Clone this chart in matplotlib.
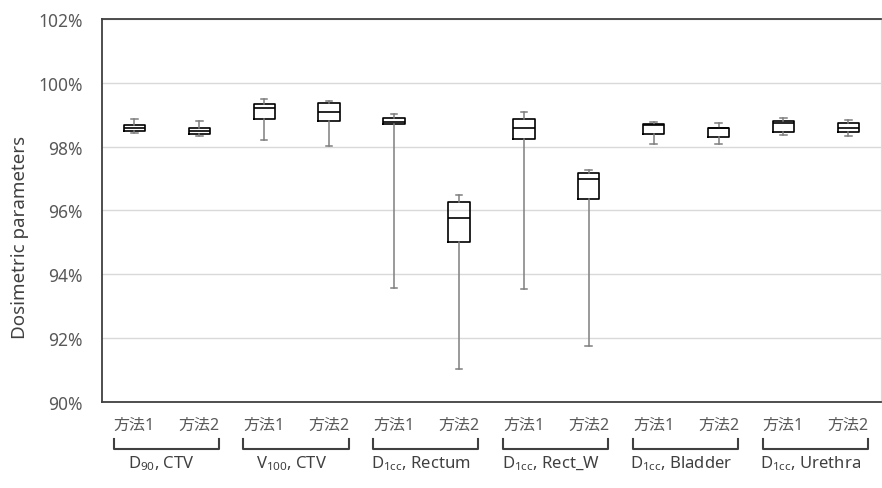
import matplotlib
matplotlib.use("Agg")
import matplotlib.pyplot as plt
from matplotlib.ticker import FuncFormatter

plt.rcParams['font.family'] = ['Noto Sans', 'Noto Sans CJK JP', 'DejaVu Sans']
plt.rcParams['mathtext.fontset'] = 'custom'
plt.rcParams['mathtext.rm'] = 'Noto Sans'
plt.rcParams['mathtext.it'] = 'Noto Sans'
plt.rcParams['mathtext.default'] = 'regular'

groups = ["D$_{90}$, CTV", "V$_{100}$, CTV", "D$_{1cc}$, Rectum",
          "D$_{1cc}$, Rect_W", "D$_{1cc}$, Bladder", "D$_{1cc}$, Urethra"]
methods = ["方法1", "方法2"]

# per box: lower whisker, Q1, median, Q3, upper whisker (%)
whislo = [98.44, 98.34, 98.21, 98.02, 93.57, 91.02, 93.53, 91.74, 98.08, 98.08, 98.38, 98.33]
q1     = [98.48, 98.39, 98.86, 98.81, 98.70, 95.02, 98.25, 96.36, 98.39, 98.31, 98.46, 98.46]
med    = [98.60, 98.49, 99.20, 99.09, 98.76, 95.77, 98.58, 96.99, 98.68, 98.57, 98.73, 98.60]
q3     = [98.67, 98.57, 99.33, 99.36, 98.90, 96.27, 98.88, 97.19, 98.70, 98.60, 98.81, 98.74]
whishi = [98.87, 98.80, 99.50, 99.43, 99.03, 96.49, 99.10, 97.26, 98.77, 98.74, 98.91, 98.85]

stats = []
for i in range(len(med)):
    stats.append(dict(whislo=whislo[i], q1=q1[i], med=med[i], q3=q3[i], whishi=whishi[i], fliers=[]))

fig = plt.figure(figsize=(8.82, 4.89), dpi=100)
ax = fig.add_axes([0.1156, 0.176, 0.883, 0.783])

pos = [i + 0.5 for i in range(len(stats))]
ax.bxp(stats, positions=pos, widths=0.33, showfliers=False, capwidths=0.1,
       boxprops=dict(color='black', linewidth=1.2),
       medianprops=dict(color='black', linewidth=1.2),
       whiskerprops=dict(color='#7f7f7f', linewidth=1.1),
       capprops=dict(color='#7f7f7f', linewidth=1.1),
       zorder=3)

ax.set_xlim(0, 12)
ax.set_ylim(90, 102)
ax.set_yticks(range(90, 103, 2))
ax.yaxis.set_major_formatter(FuncFormatter(lambda v, p: f"{v:.0f}%"))
ax.set_xticks([])
ax.tick_params(axis='y', length=0, labelsize=12.5, labelcolor='#595959', pad=14)
ax.grid(axis='y', color='#d9d9d9', linewidth=1, zorder=0)
ax.set_axisbelow(True)
for s in ['left', 'top', 'bottom']:
    ax.spines[s].set_color('#404040')
    ax.spines[s].set_linewidth(1.3)
ax.spines['right'].set_color('#d9d9d9')
ax.set_ylabel("Dosimetric parameters", fontsize=13.5, color='#404040', va='center')
ax.yaxis.set_label_coords(-0.105, 0.433)

trans = ax.get_xaxis_transform()
for i in range(len(stats)):
    ax.text(pos[i], -0.06, methods[i % 2], transform=trans, ha='center', va='center',
            fontsize=11.5, color='#595959', clip_on=False)
for g in range(len(groups)):
    x0, x1 = 2 * g + 0.18, 2 * g + 1.8
    ax.plot([x0, x0, x1, x1], [-0.097, -0.123, -0.123, -0.097], transform=trans,
            color='#404040', linewidth=1.5, clip_on=False, solid_joinstyle='round')
    ax.text(2 * g + 0.92, -0.158, groups[g], transform=trans, ha='center', va='center',
            fontsize=12, color='#404040', clip_on=False)

fig.savefig("out.png", dpi=100)
